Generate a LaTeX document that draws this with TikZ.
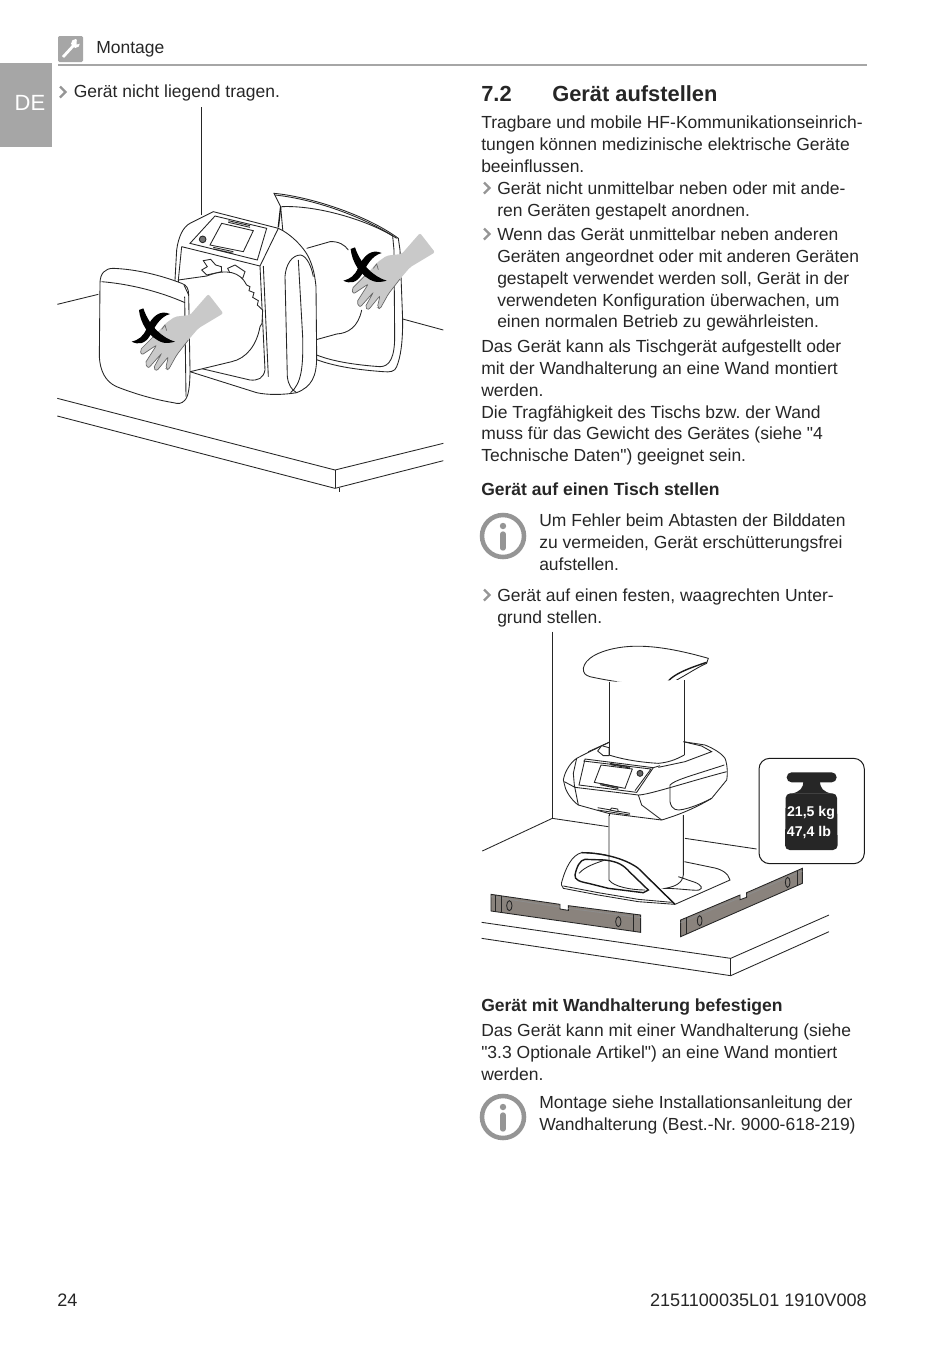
\documentclass[tikz,border=0pt]{standalone}
\usepackage{fontspec}
\setmainfont{Liberation Sans}
\usetikzlibrary{positioning, calc}
\definecolor{tabgray}{HTML}{A6A6A6}
\definecolor{handgray}{HTML}{C9C9C9}
\definecolor{bargray}{HTML}{8A837D}
\definecolor{inkgray}{HTML}{262626}
\frenchspacing
\newcommand*{\straightquote}{\XeTeXglyph\XeTeXcharglyph"22\relax}

\begin{document}
\begin{tikzpicture}[x=.75pt, y=-.75pt,
  bodytext/.style={anchor=north west, align=left, inner sep=0pt, text=inkgray, font=\fontsize{13.12pt}{16.3pt}\selectfont},
  headtext/.style={bodytext, font=\fontsize{13.15pt}{16.3pt}\selectfont\bfseries},
  titletext/.style={bodytext, font=\fontsize{16.4pt}{20pt}\selectfont\bfseries},
  foottext/.style={bodytext, font=\fontsize{13.55pt}{16.3pt}\selectfont},
  chevron/.style={line width=1.8pt, tabgray!90!black},
  illu/.style={line width=.65pt, draw=black!85},
  thick illu/.style={line width=1.05pt, draw=black!90},
  infoicon/.style={line width=3.4pt, tabgray!90!black}]

\newcommand*{\chevronat}[2]{\draw[chevron] (#1-3,#2-5.5) -- (#1+2.5,#2) -- (#1-3,#2+5.5)}
\newcommand*{\infoat}[2]{\draw[infoicon] (#1,#2) circle [radius=21];
\fill[tabgray!90!black] (#1,#2-10) circle [radius=3.2];
\draw[line width=4pt, line cap=round, tabgray!90!black] (#1,#2-2) -- (#1,#2+12)}
\newcommand*{\handcross}[2]{\begin{scope}[shift={(#1,#2)}]
\fill[handgray, rounded corners=1.5pt] (475,372) -- (420,435) -- (375,440) -- (347,460) -- (325,485) -- (305,505) -- (270,540) -- (275,555) -- (320,525) -- (285,580) -- (295,595) -- (335,550) -- (310,595) -- (320,603) -- (355,560) -- (347,595) -- (355,600) -- (380,555) -- (415,510) -- (445,475) -- (520,430) -- cycle;
\draw[line width=.5pt, black!60, rounded corners=1.5pt] (325,485) -- (305,505) -- (270,540) -- (275,555) -- (320,525) -- (285,580) -- (295,595) -- (335,550) -- (310,595) -- (320,603) -- (355,560) -- (347,595) -- (355,600) -- (380,555) -- (415,510);
\draw[line width=.5pt, black!60] (335,478) -- (345,465) -- (350,482);
\fill[black] (267,420) .. controls (270,455) and (295,505) .. (340,518) .. controls (352,520) and (365,518) .. (375,515) .. controls (340,505) and (298,470) .. (280,415) -- cycle;
\fill[black] (360,432) .. controls (330,418) and (305,440) .. (290,475) .. controls (280,500) and (265,510) .. (245,515) .. controls (265,525) and (285,522) .. (300,497) .. controls (315,470) and (330,440) .. (360,432);
\end{scope}}

% HEADER

\fill[tabgray, rounded corners=1pt] (58,36) rectangle (83,62);
\draw[white, line width=2.1pt] (63,57) -- (74,45);
\fill[white] (75.5,43.5) circle [radius=4.4];
\fill[tabgray] (77,38) -- (82,43) -- (76.5,44.5) -- cycle;
\draw[tabgray, line width=1.5pt] (58,64.5) -- (867,64.5);
\fill[tabgray] (0,63) rectangle (52,147);
\node[text=white, inner sep=0pt, font=\fontsize{16.5pt}{18pt}\selectfont] (tabtext) at (30,103) {DE};
\node[bodytext] (headertext) at (96,41) {Montage};

% LEFT COLUMN

\chevronat{63}{92};
\node[bodytext] (carrytext) at (73.5,85) {Gerät nicht liegend tragen.};

\draw[illu] (201,107) -- (201,215);
\begin{scope}[shift={(37.5pt,-127.5pt)}, x=.25pt, y=-.25pt]
\draw[illu] (22,403) -- (145,373);
\draw[illu] (1058,447) -- (1180,480);
\draw[illu] (22,685) -- (855,900) -- (1180,820);
\draw[illu] (22,738) -- (855,955) -- (1180,872);
\draw[illu] (855,900) -- (855,955);
\draw[illu] (868,955) -- (868,965);
% rear panel
\draw[illu, fill=white] (672,70) .. controls (780,80) and (950,135) .. (1045,205) -- (1050,240) -- (1058,450) .. controls (1058,520) and (1052,560) .. (1040,590) .. controls (1035,605) and (1020,607) .. (1000,605) .. controls (930,600) and (850,590) .. (790,565) -- (700,200) -- (692,110) -- cycle;
\draw[illu] (675,75) .. controls (800,88) and (950,145) .. (1040,205);
\draw[illu] (695,110) .. controls (800,105) and (950,150) .. (1028,198) -- (1032,240) -- (1034,500) .. controls (1034,560) and (1020,590) .. (990,590) .. controls (920,585) and (850,575) .. (800,555);
\draw[illu] (770,235) -- (840,215) .. controls (865,213) and (885,225) .. (895,240);
\draw[illu] (795,510) -- (860,492) .. controls (895,490) and (925,470) .. (935,420);
% device body
\draw[illu, fill=white] (490,125) -- (685,175) .. controls (720,190) and (760,230) .. (775,260) .. controls (790,290) and (795,320) .. (798,350) -- (800,560) .. controls (800,620) and (785,650) .. (740,668) .. controls (700,675) and (650,675) .. (620,668) -- (420,605) -- (375,330) -- (380,240) .. controls (385,200) and (400,170) .. (420,160) -- cycle;
\draw[illu] (495,138) -- (650,175) -- (622,270) -- (420,220) -- cycle;
\draw[illu] (515,160) -- (610,182) -- (580,245) -- (480,225) -- cycle;
\draw[illu, fill=black!55] (458,208) circle [radius=10];
\draw[illu] (535,152) -- (600,167) (535,157) -- (600,172);
\draw[illu] (490,232) -- (550,245) (490,237) -- (550,250);
\draw[illu] (395,230) -- (630,288) -- (685,175);
\draw[illu] (395,230) -- (385,330);
\draw[illu] (630,288) -- (645,600) .. controls (640,625) and (625,632) .. (600,630) -- (430,590);
\draw[illu] (640,288) -- (655,620);
\draw[illu] (705,320) .. controls (707,285) and (725,255) .. (752,255) .. controls (770,258) and (785,290) .. (790,320);
\draw[illu] (705,320) -- (712,620) .. controls (715,645) and (725,660) .. (740,668);
\draw[illu] (745,270) -- (758,500) .. controls (760,590) and (755,640) .. (722,668);
\draw[thick illu] (692,110) -- (685,172);
% knobs on the ring
\draw[illu, fill=white] (455,300) -- (472,290) -- (460,272) -- (482,268) -- (497,285) -- (514,290) -- (515,305) -- (470,315) -- cycle;
\draw[illu, fill=white] (533,295) -- (555,285) -- (585,305) -- (578,325) -- (540,310) -- cycle;
% front tube
\draw[illu, fill=white] (385,330) -- (470,318) .. controls (530,295) and (570,305) .. (590,345) -- (600,350) -- (597,362) -- (612,368) -- (608,382) -- (625,392) -- (622,405) -- (638,420) -- (636,460) -- (630,470) .. controls (620,525) and (590,565) .. (545,575) -- (400,610) -- cycle;
% front panel
\draw[illu, fill=white] (150,340) .. controls (150,310) and (165,295) .. (190,295) .. controls (260,298) and (330,315) .. (395,340) .. controls (410,345) and (416,355) .. (416,375) -- (420,600) .. controls (420,650) and (415,680) .. (405,690) .. controls (395,702) and (385,702) .. (370,698) .. controls (310,688) and (250,670) .. (200,650) .. controls (165,635) and (150,600) .. (148,560) -- cycle;
\draw[illu] (155,335) .. controls (240,342) and (330,365) .. (405,398);
\draw[illu] (404,380) -- (408,680);
\draw[illu] (416,375) -- (402,345);
\handcross{0}{0};
\handcross{635}{-183};
\end{scope}

% RIGHT COLUMN

\node[titletext] (secnumber) at (481,85.5) {7.2};
\node[titletext] (sectitle) at (552,85.5) {Gerät aufstellen};

\node[bodytext] (introtext) at (481,116) {Tragbare und mobile HF-Kommunikationseinrich-\\tungen können medizinische elektrische Geräte\\beeinflussen.};
\chevronat{487}{188};
\node[bodytext] (stacktext) at (497,181.5) {Gerät nicht unmittelbar neben oder mit ande-\\ren Geräten gestapelt anordnen.};
\chevronat{487}{234};
\node[bodytext] (monitortext) at (497,228) {Wenn das Gerät unmittelbar neben anderen\\Geräten angeordnet oder mit anderen Geräten\\gestapelt verwendet werden soll, Gerät in der\\verwendeten Konfiguration überwachen, um\\einen normalen Betrieb zu gewährleisten.};
\node[bodytext] (mounttext) at (481,340) {Das Gerät kann als Tischgerät aufgestellt oder\\mit der Wandhalterung an eine Wand montiert\\werden.\\Die Tragfähigkeit des Tischs bzw. der Wand\\muss für das Gewicht des Gerätes (siehe \straightquote 4\\Technische Daten\straightquote) geeignet sein.};

\node[headtext] (tablehead) at (481,483) {Gerät auf einen Tisch stellen};
\infoat{503}{536};
\node[bodytext] (shaketext) at (539,514) {Um Fehler beim Abtasten der Bilddaten\\zu vermeiden, Gerät erschütterungsfrei\\aufstellen.};
\chevronat{487}{595};
\node[bodytext] (floortext) at (497,589) {Gerät auf einen festen, waagrechten Unter-\\grund stellen.};

\begin{scope}[shift={(356.25pt,-468.75pt)}, x=.25pt, y=-.25pt]
\draw[illu] (232,20) -- (232,580);
\draw[illu] (22,678) -- (232,580) -- (400,605);
\draw[illu] (630,640) -- (845,672);
\draw[illu] (20,892) -- (767,1000) -- (1062,870);
\draw[illu] (20,940) -- (767,1052) -- (1062,920);
\draw[illu] (767,1000) -- (767,1052);
% base plate
\draw[illu, fill=white] (628,710) -- (710,727) .. controls (740,732) and (760,745) .. (765,765) -- (600,838) -- (490,830) -- (370,810) -- (265,790) .. controls (258,785) and (258,775) .. (262,765) .. controls (272,730) and (290,690) .. (320,683) .. controls (380,683) and (450,700) .. (490,730) -- (600,838);
\draw[illu] (265,783) -- (370,803) -- (490,823) -- (590,832);
% column
\fill[white] (402,170) rectangle (628,760);
\draw[illu] (402,570) -- (402,765) .. controls (415,785) and (470,795) .. (510,795);
\draw[illu] (625,570) -- (625,750) .. controls (622,775) and (600,785) .. (570,790) .. controls (610,790) and (660,798) .. (672,795) .. controls (685,790) and (680,780) .. (660,772) -- (610,755);
% handle
\draw[thick illu] (300,750) .. controls (305,725) and (315,705) .. (330,703) -- (390,705) .. controls (430,710) and (445,720) .. (465,742) -- (520,795) -- (505,803) -- (400,790) -- (340,775) .. controls (315,770) and (298,765) .. cycle;
\draw[thick illu] (320,683) .. controls (380,683) and (450,700) .. (490,730) -- (600,838);
\draw[illu] (312,745) .. controls (330,725) and (360,715) .. (390,705);
% top cap
\draw[illu, fill=white] (325,130) .. controls (330,100) and (370,80) .. (420,70) .. controls (480,58) and (560,60) .. (700,100) -- (695,115) .. controls (660,130) and (620,160) .. (575,180) .. controls (560,188) and (540,186) .. (520,182) .. controls (450,175) and (390,165) .. (345,155) .. controls (330,150) and (325,145) .. cycle;
\draw[thick illu] (570,182) .. controls (585,150) and (640,130) .. (695,112);
% device
\draw[illu, fill=white] (265,465) .. controls (270,435) and (290,410) .. (305,400) -- (330,387) -- (402,352) -- (625,350) -- (690,360) .. controls (715,370) and (740,385) .. (750,400) .. controls (758,420) and (758,450) .. (755,465) -- (710,520) .. controls (660,550) and (610,570) .. (560,585) -- (400,565) -- (310,540) .. controls (295,530) and (275,505) .. (270,485) -- cycle;
\draw[illu] (340,380) -- (402,352);
\draw[illu] (625,350) -- (680,363) -- (710,380) -- (630,410) -- (550,427);
\draw[illu, fill=white] (368,378) -- (380,362) -- (402,368) -- (402,392) -- (385,392) -- cycle;
% upper column
\fill[white] (403,170) -- (625,165) -- (625,390) .. controls (600,410) and (580,412) .. (550,415) .. controls (500,412) and (450,405) .. (403,390) -- cycle;
\draw[illu] (402,170) -- (402,390);
\draw[illu] (628,165) -- (628,390);
\draw[illu] (402,390) .. controls (450,405) and (500,412) .. (550,415) .. controls (580,412) and (600,405) .. (628,390);
\draw[illu] (330,402) -- (535,428) -- (485,502) -- (312,480) -- cycle;
\draw[illu] (325,408) -- (528,432) -- (480,497);
\draw[illu] (378,420) -- (472,432) -- (450,490) -- (358,472) -- cycle;
\draw[illu, fill=black!60] (495,445) circle [radius=9];
\draw[illu] (405,415) -- (465,425) (405,419) -- (465,429);
\draw[illu] (375,475) -- (430,487) (375,479) -- (430,491);
\draw[illu] (268,470) -- (300,487) -- (490,510) .. controls (520,510) and (640,470) .. (755,440);
\draw[illu] (305,400) -- (295,445) -- (298,480) -- (310,540);
\draw[illu] (535,428) -- (555,422);
\draw[illu] (585,480) .. controls (600,465) and (640,455) .. (748,420);
\draw[illu] (585,480) -- (585,530) .. controls (590,555) and (605,558) .. (625,553) .. controls (660,545) and (690,530) .. (710,520);
\draw[illu] (490,510) -- (500,540) -- (560,585);
\draw[illu] (368,548) -- (465,565) (368,555) -- (465,570);
\draw[illu, fill=white] (405,555) -- (410,549) -- (428,552) -- (430,560) -- cycle;
\draw[illu] (402,565) -- (402,572);
% bars
\draw[illu, fill=bargray] (48,808) -- (255,838) -- (255,852) -- (280,856) -- (280,842) -- (497,870) -- (497,922) -- (48,858) -- cycle;
\draw[illu, black!45] (48,815) -- (255,846) (280,850) -- (497,878);
\draw[illu] (62,810) -- (62,860) (78,812) -- (78,862) (475,867) -- (475,919);
\draw[illu] (103,842) circle [x radius=8, y radius=15];
\draw[illu] (430,890) circle [x radius=8, y radius=15];
\draw[illu, fill=bargray] (617,885) -- (795,810) -- (795,824) -- (815,817) -- (815,803) -- (982,730) -- (982,775) -- (617,935) -- cycle;
\draw[illu, black!45] (617,893) -- (795,818) (815,811) -- (982,738);
\draw[illu] (633,880) -- (633,928) (968,736) -- (968,781);
\draw[illu] (938,772) circle [x radius=7, y radius=15];
\draw[illu] (674,887) circle [x radius=7, y radius=15];
% weight label
\draw[line width=.75pt, black!90, fill=white, rounded corners=8pt] (852,400) rectangle (1168,716);
\fill[inkgray, rounded corners=3.5pt] (932,505) -- (1086,505) -- (1088,675) -- (930,675) -- cycle;
\fill[inkgray, rounded corners=3.7pt] (935,442) rectangle (1085,472);
\fill[inkgray] (985,468) -- (1035,468) .. controls (1035,490) and (1045,500) .. (1070,506) -- (950,506) .. controls (975,500) and (985,490) .. cycle;
\node[inner sep=0pt, text=white, font=\fontsize{10.6pt}{12pt}\selectfont\bfseries] (kgtext) at (1008,563) {21,5 kg};
\node[inner sep=0pt, text=white, font=\fontsize{10.6pt}{12pt}\selectfont\bfseries, anchor=west] (lbtext) at (935,622) {47,4 lb};
\end{scope}

\node[headtext] (wallhead) at (481,999) {Gerät mit Wandhalterung befestigen};
\node[bodytext] (walltext) at (481,1024) {Das Gerät kann mit einer Wandhalterung (siehe\\\straightquote 3.3 Optionale Artikel\straightquote) an eine Wand montiert\\werden.};
\infoat{503}{1117};
\node[bodytext] (guidetext) at (539,1096) {Montage siehe Installationsanleitung der\\Wandhalterung (Best.-Nr. 9000-618-219)};

% FOOTER

\node[foottext] (pagetext) at (57,1294) {24};
\node[foottext, anchor=north east] (doctext) at (867,1294) {2151100035L01 1910V008};

\useasboundingbox (0,0) rectangle (950,1347);
\end{tikzpicture}
\end{document}
